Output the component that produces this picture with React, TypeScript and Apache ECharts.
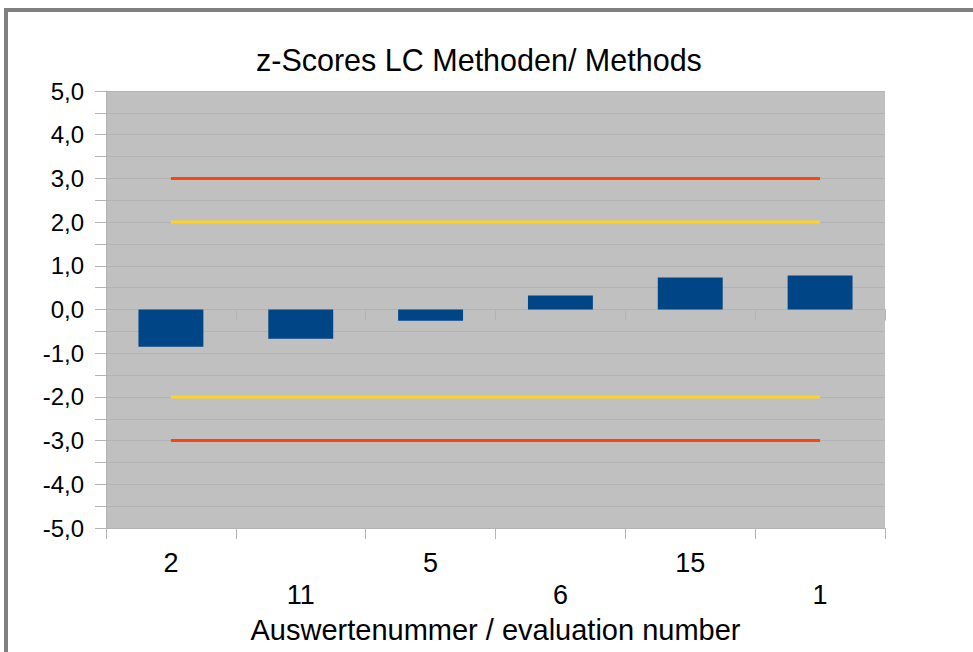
import React, { useEffect, useRef } from "react";
import * as echarts from "echarts";

const categories = ["2", "11", "5", "6", "15", "1"];
const zScores = [-0.85, -0.67, -0.26, 0.32, 0.73, 0.78];
const redUpper = [3, 3, 3, 3, 3, 3];
const redLower = [-3, -3, -3, -3, -3, -3];
const yellowUpper = [2, 2, 2, 2, 2, 2];
const yellowLower = [-2, -2, -2, -2, -2, -2];

const titleText = "z-Scores LC Methoden/ Methods";
const xAxisName = "Auswertenummer / evaluation number";

const FONT = "'Liberation Sans', Arial, sans-serif";
const GRID = "#b3b3b3";

export default function App() {
  const ref = useRef<HTMLDivElement>(null);
  useEffect(() => {
    if (!ref.current) return;
    const chart = echarts.init(ref.current, undefined, { renderer: "svg" });
    const lineSeries = (name: string, data: number[], color: string) => ({
      name,
      type: "line",
      data,
      xAxisIndex: 0,
      yAxisIndex: 0,
      symbol: "none",
      lineStyle: { color, width: 3 },
      itemStyle: { color },
      z: 3,
    });
    chart.setOption({
      animation: false,
      backgroundColor: "#ffffff",
      textStyle: { fontFamily: FONT, color: "#000" },
      title: {
        text: titleText,
        left: 251,
        top: 39,
        textStyle: { fontFamily: FONT, fontSize: 30.5, fontWeight: "normal", color: "#000" },
      },
      graphic: [
        {
          type: "rect",
          shape: { x: 6, y: 10, width: 1000, height: 700 },
          style: { fill: "none", stroke: "#808080", lineWidth: 4 },
          silent: true,
        },
      ],
      grid: {
        left: 106,
        right: 88,
        top: 91,
        bottom: 124,
        show: true,
        backgroundColor: "#c0c0c0",
        borderWidth: 0,
      },
      xAxis: [
        {
          type: "category",
          data: categories,
          position: "bottom",
          axisLine: { show: true, onZero: false, lineStyle: { color: GRID, width: 1 } },
          axisTick: { show: true, length: 11, lineStyle: { color: GRID } },
          axisLabel: {
            interval: 0,
            margin: 19,
            fontSize: 27,
            lineHeight: 32,
            color: "#000",
            fontFamily: FONT,
            formatter: (v: string, i: number) => (i % 2 === 1 ? "\n" + v : v),
          },
          splitLine: { show: false },
          name: xAxisName,
          nameLocation: "middle",
          nameGap: 78,
          nameTextStyle: { fontSize: 29, color: "#000", fontFamily: FONT },
        },
        {
          type: "category",
          data: categories,
          position: "top",
          axisLine: { show: true, onZero: true, lineStyle: { color: GRID, width: 1 } },
          axisTick: { show: true, inside: true, length: 11, lineStyle: { color: GRID } },
          axisLabel: { show: false },
          splitLine: { show: false },
        },
      ],
      yAxis: {
        type: "value",
        min: -5,
        max: 5,
        interval: 1,
        axisLine: { show: true, lineStyle: { color: GRID } },
        axisTick: { show: true, length: 11, lineStyle: { color: GRID } },
        minorTick: { show: true, splitNumber: 2, length: 11, lineStyle: { color: GRID } },
        splitLine: { show: true, lineStyle: { color: GRID, width: 1 } },
        minorSplitLine: { show: true, lineStyle: { color: GRID, width: 1 } },
        axisLabel: {
          margin: 22,
          fontSize: 24,
          color: "#000",
          fontFamily: FONT,
          formatter: (v: number) => v.toFixed(1).replace(".", ","),
        },
      },
      series: [
        {
          name: "z-Score",
          type: "bar",
          data: zScores,
          xAxisIndex: 0,
          yAxisIndex: 0,
          barWidth: "50%",
          itemStyle: { color: "#004586" },
          z: 2,
        },
        lineSeries("+3", redUpper, "#ff420e"),
        lineSeries("-3", redLower, "#ff420e"),
        lineSeries("+2", yellowUpper, "#ffd320"),
        lineSeries("-2", yellowLower, "#ffd320"),
      ],
    });
    return () => chart.dispose();
  }, []);
  return (
    <div
      ref={ref}
      style={{ position: "absolute", left: 0, top: 0, width: 973, height: 652, background: "#fff" }}
    />
  );
}
